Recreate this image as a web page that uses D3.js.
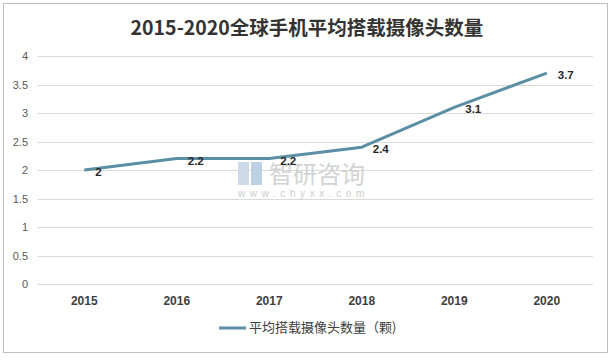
<!DOCTYPE html>
<html><head><meta charset="utf-8">
<script src="https://cdn.jsdelivr.net/npm/d3@7"></script>
<style>body{margin:0;background:#fff}svg{display:block}</style>
</head><body>
<svg id="c" width="614" height="360"></svg>
<script>
const years = ["2015","2016","2017","2018","2019","2020"];
const values = [2, 2.2, 2.2, 2.4, 3.1, 3.7];
const yTicks = [0, 0.5, 1, 1.5, 2, 2.5, 3, 3.5, 4];
const yTickLabels = ["0","0.5","1","1.5","2","2.5","3","3.5","4"];
const title = "2015-2020全球手机平均搭载摄像头数量";
const seriesName = "平均搭载摄像头数量（颗)";

const svg = d3.select("#c");
const font = "'Noto Sans CJK SC','Noto Sans',sans-serif";
svg.append("rect").attr("x",3.5).attr("y",3.5).attr("width",604).attr("height",349)
  .attr("fill","#fff").attr("stroke","#bfbfbf");

const x = d3.scaleBand().domain(years).range([38,593]);
const y = d3.scaleLinear().domain([0,4]).range([284,56]);

// gridlines
svg.append("g").selectAll("line").data(yTicks).join("line")
  .attr("x1",38).attr("x2",593).attr("y1",d=>Math.round(y(d))+0.5).attr("y2",d=>Math.round(y(d))+0.5)
  .attr("stroke","#d9d9d9").attr("stroke-width",1);

// y axis
const ya = svg.append("g").attr("transform","translate(28,0)")
  .call(d3.axisLeft(y).tickValues(yTicks).tickFormat((d,i)=>yTickLabels[i]).tickSize(0).tickPadding(0));
ya.select(".domain").remove();
ya.selectAll("text").attr("fill","#595959").style("font-family","'Liberation Sans',sans-serif").style("font-size","11px");

// x axis
const xa = svg.append("g").attr("transform","translate(0,296)")
  .call(d3.axisBottom(x).tickSize(0).tickPadding(0));
xa.select(".domain").remove();
xa.selectAll("text").attr("fill","#404040").style("font-family","'Liberation Sans',sans-serif")
  .style("font-size","12px").style("font-weight","bold");

// watermark
const wm = svg.append("g").attr("opacity",0.9);
wm.append("rect").attr("x",238).attr("y",162).attr("width",11).attr("height",23).attr("fill","#c9d6e6");
wm.append("rect").attr("x",251).attr("y",162).attr("width",11).attr("height",23).attr("fill","#b7cbe0");
wm.append("text").attr("x",269).attr("y",183).text("智研咨询")
  .attr("fill","#cfcfcf").style("font-family",font).style("font-size","24px");
wm.append("text").attr("x",238).attr("y",197).text("www.chyxx.com")
  .attr("fill","#c8c8c8").style("font-family","'Liberation Sans',sans-serif").style("font-size","10px")
  .style("letter-spacing","4.6px");

// line
const cx = d => x(d) + x.bandwidth()/2;
const line = d3.line().x((d,i)=>cx(years[i])).y(d=>y(d));
svg.append("path").datum(values).attr("d",line).attr("fill","none")
  .attr("stroke","#5b8fa5").attr("stroke-width",3).attr("stroke-linejoin","round");

// labels
svg.append("g").selectAll("text").data(values).join("text")
  .attr("x",(d,i)=>cx(years[i])+11).attr("y",d=>y(d)+6)
  .text(d=>d).attr("fill","#262626")
  .style("font-family","'Liberation Sans',sans-serif").style("font-size","11.5px").style("font-weight","bold");

// title
svg.append("text").attr("x",307).attr("y",35).attr("text-anchor","middle").text(title)
  .attr("fill","#333").style("font-family",font).style("font-size","19.5px").style("font-weight","bold");

// legend
svg.append("line").attr("x1",219).attr("x2",246).attr("y1",328).attr("y2",328)
  .attr("stroke","#5b8fa5").attr("stroke-width",3);
svg.append("text").attr("x",249).attr("y",332).text(seriesName)
  .attr("fill","#404040").style("font-family",font).style("font-size","13px");
</script>
</body></html>
